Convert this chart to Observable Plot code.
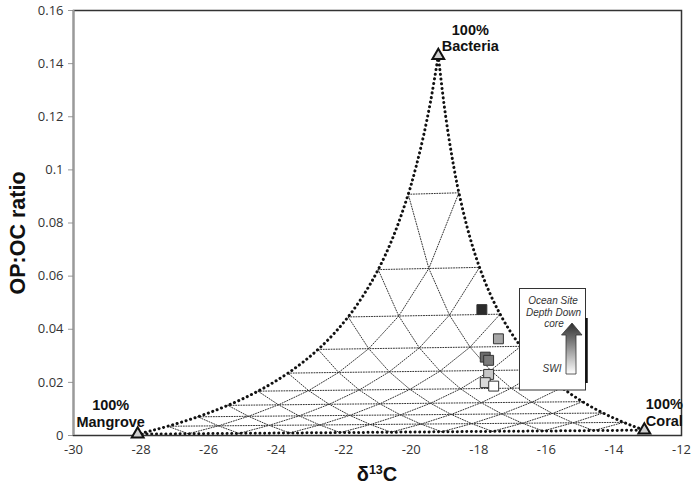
<!DOCTYPE html>
<html><head><meta charset="utf-8">
<script src="https://cdn.jsdelivr.net/npm/d3@7"></script>
<script src="https://cdn.jsdelivr.net/npm/@observablehq/plot@0.6"></script>
<style>
body{margin:0;background:#fff;}
#chart{position:relative;width:691px;height:486px;}
</style></head><body><div id="chart"></div>
<script>
// ---- axis ticks ----
const xTicks = [-30,-28,-26,-24,-22,-20,-18,-16,-14,-12];
const yTicks = [0,0.02,0.04,0.06,0.08,0.1,0.12,0.14,0.16];

// ---- end-members ----
const endmemberNames = ["Mangrove","Bacteria","Coral"];
const endmemberDelta = [-28.1,-19.2,-13.1];
const endmemberRatio = [0.0005,0.143,0.002];

// ---- mixing-grid nodes, row = bacteria share (0..100% in 10% steps), column = coral share ----
const meshDelta = [
  [-28.1,-26.6,-25.1,-23.6,-22.1,-20.6,-19.1,-17.6,-16.1,-14.6,-13.1],
  [-27.21,-25.71,-24.21,-22.71,-21.21,-19.71,-18.21,-16.71,-15.21,-13.71],
  [-26.32,-24.82,-23.32,-21.82,-20.32,-18.82,-17.32,-15.82,-14.32],
  [-25.43,-23.93,-22.43,-20.93,-19.43,-17.93,-16.43,-14.93],
  [-24.54,-23.04,-21.54,-20.04,-18.54,-17.04,-15.54],
  [-23.65,-22.15,-20.65,-19.15,-17.65,-16.15],
  [-22.76,-21.26,-19.76,-18.26,-16.76],
  [-21.87,-20.37,-18.87,-17.37],
  [-20.98,-19.48,-17.98],
  [-20.09,-18.59],
  [-19.2]
];
const meshRatio = [
  [0.0005,0.00065,0.0008,0.00095,0.0011,0.00125,0.0014,0.00155,0.0017,0.00185,0.002],
  [0.00348,0.00364,0.00381,0.00397,0.00413,0.0043,0.00446,0.00462,0.00479,0.00495],
  [0.00704,0.00722,0.00739,0.00757,0.00775,0.00793,0.00811,0.00829,0.00847],
  [0.01135,0.01155,0.01175,0.01194,0.01214,0.01234,0.01254,0.01274],
  [0.01669,0.01691,0.01714,0.01736,0.01758,0.0178,0.01802],
  [0.02348,0.02374,0.02399,0.02424,0.02449,0.02474],
  [0.0324,0.03269,0.03299,0.03328,0.03357],
  [0.04464,0.04498,0.04533,0.04567],
  [0.06246,0.06288,0.0633],
  [0.09082,0.09137],
  [0.143]
];

// ---- outer mixing curves (Bacteria–Mangrove, Bacteria–Coral) ----
const leftEdgeDelta = [-19.2,-19.4225,-19.645,-19.8675,-20.09,-20.535,-20.98,-21.425,-21.87,-22.315,-22.76,-23.205,-23.65,-24.095,-24.54,-24.985,-25.43,-25.875,-26.32,-26.765,-27.21,-27.655,-28.1];
const leftEdgeRatio = [0.143,0.12623,0.11238,0.10074,0.09082,0.07481,0.06246,0.05263,0.04464,0.038,0.0324,0.02762,0.02348,0.01987,0.01669,0.01387,0.01135,0.00908,0.00704,0.00518,0.00348,0.00193,0.0005];
const rightEdgeDelta = [-19.2,-19.0475,-18.895,-18.7425,-18.59,-18.285,-17.98,-17.675,-17.37,-17.065,-16.76,-16.455,-16.15,-15.845,-15.54,-15.235,-14.93,-14.625,-14.32,-14.015,-13.71,-13.405,-13.1];
const rightEdgeRatio = [0.143,0.12641,0.1127,0.10118,0.09137,0.07553,0.0633,0.05359,0.04567,0.0391,0.03357,0.02883,0.02474,0.02117,0.01802,0.01523,0.01274,0.01049,0.00847,0.00663,0.00495,0.00341,0.002];

// ---- core samples (deepest first, SWI last) ----
const sampleId = ["S1","S2","S3","S4","S5","S6","S7"];
const sampleDelta = [-17.91,-17.42,-17.81,-17.71,-17.71,-17.81,-17.56];
const sampleRatio = [0.0474,0.0364,0.0295,0.0283,0.0230,0.0199,0.0186];

// ---- build tables ----
const meshTable = [];
for (let i = 1; i <= 9; i++)
  meshDelta[i].forEach((x, j) => meshTable.push({line: "B" + i, x, y: meshRatio[i][j]}));
for (let j = 1; j <= 9; j++)
  for (let i = 0; i <= 10 - j; i++) meshTable.push({line: "C" + j, x: meshDelta[i][j], y: meshRatio[i][j]});
for (let m = 1; m <= 9; m++)
  for (let i = 0; i <= 10 - m; i++) { const j = 10 - m - i; meshTable.push({line: "M" + m, x: meshDelta[i][j], y: meshRatio[i][j]}); }

const edgeTable = [
  ...leftEdgeDelta.map((x, k) => ({edge: "BM", x, y: leftEdgeRatio[k]})),
  ...rightEdgeDelta.map((x, k) => ({edge: "BC", x, y: rightEdgeRatio[k]})),
  ...meshDelta[0].map((x, k) => ({edge: "MC", x, y: meshRatio[0][k]}))
];
const endmembers = endmemberNames.map((name, k) => ({name, x: endmemberDelta[k], y: endmemberRatio[k]}));
const samples = sampleId.map((id, k) => ({id, x: sampleDelta[k], y: sampleRatio[k]}));

const labelOpts = {x: "x", y: "y", text: d => "100%\n" + d.name, textAnchor: "middle", fontWeight: "bold", fontSize: 14.5, lineHeight: 1.15, fill: "#111", fontFamily: "Liberation Sans, Arial, sans-serif"};

const plot = Plot.plot({
  width: 691, height: 486,
  marginLeft: 73, marginRight: 10, marginTop: 10, marginBottom: 51,
  style: {fontFamily: "Open Sans, sans-serif", fontSize: "13px", color: "#333", background: "#fff"},
  x: {domain: [-30, -12], label: null},
  y: {domain: [0, 0.16], label: null},
  color: {type: "ordinal", domain: sampleId, range: ["#2b2b2b","#a6a6a6","#6b6b6b","#7c7c7c","#c6c6c6","#dadada","#ffffff"]},
  marks: [
    Plot.axisX({ticks: xTicks, tickSize: 0, tickPadding: 9, tickFormat: d => String(d), label: null, fill: "#333"}),
    Plot.axisY({ticks: yTicks, tickSize: 5, tickPadding: 5, tickFormat: d => String(d), label: null, stroke: "#999", fill: "#333"}),
    Plot.line(meshTable, {x: "x", y: "y", z: "line", stroke: "#333", strokeWidth: 1, strokeDasharray: "1,1.6"}),
    Plot.line(edgeTable, {x: "x", y: "y", z: "edge", curve: "catmull-rom", stroke: "#111", strokeWidth: 3, strokeLinecap: "round", strokeDasharray: "0.1,4.6"}),
    Plot.frame({stroke: "#333", strokeWidth: 1.5}),
    Plot.ruleX([-30], {stroke: "#9a9a9a", strokeWidth: 2}),
    Plot.dot(samples, {x: "x", y: "y", symbol: "square", r: 5.6, fill: "id", stroke: "#333", strokeWidth: 1}),
    Plot.dot(endmembers, {x: "x", y: "y", symbol: "triangle", r: 4.4, fill: "#cfcfcf", stroke: "#111", strokeWidth: 2}),
    Plot.text(endmembers.filter(d => d.name === "Mangrove"), {...labelOpts, dx: -27, dy: -21}),
    Plot.text(endmembers.filter(d => d.name === "Bacteria"), {...labelOpts, dx: 32, dy: -18}),
    Plot.text(endmembers.filter(d => d.name === "Coral"), {...labelOpts, dx: 20, dy: -18})
  ]
});

const svg = d3.select(plot);
// axis titles
const xt = svg.append("text").attr("x", 377).attr("y", 481).attr("text-anchor", "middle")
  .attr("font-family", "Liberation Sans, Arial, sans-serif").attr("font-weight", "bold").attr("font-size", 20).attr("fill", "#111");
xt.append("tspan").text("δ");
xt.append("tspan").attr("font-size", 12.5).attr("dy", -7.5).text("13");
xt.append("tspan").attr("dy", 7.5).text("C");
svg.append("text").attr("transform", "translate(25,233) rotate(-90)").attr("text-anchor", "middle")
  .attr("font-family", "Liberation Sans, Arial, sans-serif").attr("font-weight", "bold").attr("font-size", 21.5).attr("fill", "#111")
  .text("OP:OC ratio");

// legend box
const defs = svg.append("defs");
const grad = defs.append("linearGradient").attr("id", "arrowGrad").attr("x1", 0).attr("y1", 0).attr("x2", 0).attr("y2", 1);
grad.append("stop").attr("offset", "0%").attr("stop-color", "#2e2e2e");
grad.append("stop").attr("offset", "100%").attr("stop-color", "#ffffff");
const lg = svg.append("g");
lg.append("rect").attr("x", 519.5).attr("y", 288.5).attr("width", 66).attr("height", 101.5).attr("fill", "#fff").attr("stroke", "#333").attr("stroke-width", 1);
lg.append("line").attr("x1", 586.5).attr("x2", 586.5).attr("y1", 318).attr("y2", 383).attr("stroke", "#111").attr("stroke-width", 2.5);
const lt = (t, x, y) => lg.append("text").attr("x", x).attr("y", y).attr("text-anchor", "middle")
  .attr("font-family", "Liberation Sans Narrow, Liberation Sans, Arial, sans-serif").attr("font-style", "italic").attr("font-size", 10).attr("fill", "#333").text(t);
lt("Ocean Site", 553, 304);
lt("Depth Down", 553.5, 315.5);
lt("core", 554, 326.5);
lt("SWI", 552, 372);
lg.append("path").attr("d", "M572,323 L582,335 L576,335 L576,374 L566,374 L566,335 L561.5,335 Z")
  .attr("fill", "url(#arrowGrad)").attr("stroke", "#333").attr("stroke-width", 0.8);

document.getElementById("chart").appendChild(plot);
</script></body></html>
